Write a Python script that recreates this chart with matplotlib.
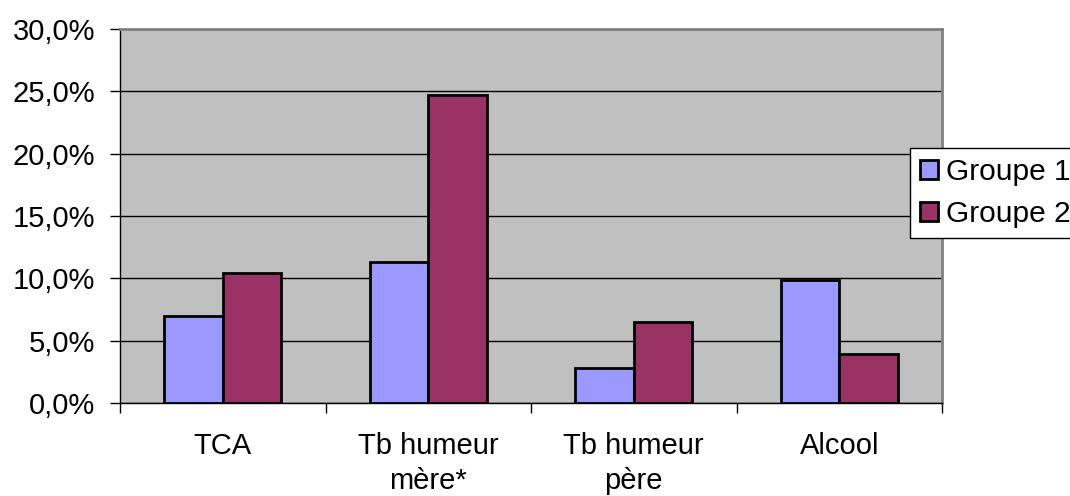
import numpy as np
import matplotlib.pyplot as plt
from matplotlib.ticker import FuncFormatter, FixedLocator

categories = ["TCA", "Tb humeur\nmère*", "Tb humeur\npère", "Alcool"]
groupe1 = [7.0, 11.3, 2.8, 9.9]
groupe2 = [10.4, 24.7, 6.5, 3.9]
series_names = ["Groupe 1", "Groupe 2"]
colors = ["#9999FF", "#993366"]

plt.rcParams["font.family"] = ["Liberation Sans", "DejaVu Sans"]

fig = plt.figure(figsize=(10.7, 4.96), dpi=100)
ax = fig.add_axes([120 / 1070, 1 - 403 / 496, 822 / 1070, 374 / 496])
ax.set_facecolor("#C0C0C0")

x = np.arange(len(categories))
w = 1 / 3.5
ax.bar(x - w / 2, groupe1, w, color=colors[0], edgecolor="black", linewidth=2,
       label=series_names[0], zorder=3)
ax.bar(x + w / 2, groupe2, w, color=colors[1], edgecolor="black", linewidth=2,
       label=series_names[1], zorder=3)

ax.set_xlim(-0.5, len(categories) - 0.5)
ax.set_ylim(0, 30)
ax.set_yticks(np.arange(0, 31, 5))
ax.yaxis.set_major_formatter(FuncFormatter(lambda v, p: f"{v:.1f}%".replace(".", ",")))
ax.yaxis.grid(True, color="black", linewidth=1, zorder=1)

ax.set_xticks(x)
ax.set_xticklabels(categories, linespacing=1.3)
ax.xaxis.set_minor_locator(FixedLocator(np.arange(-0.5, len(categories), 1)))
ax.tick_params(axis="x", which="major", length=0, pad=21, labelsize=21)
ax.tick_params(axis="x", which="minor", length=7, width=1, color="black")
ax.tick_params(axis="y", length=7, width=1, pad=11, labelsize=21)

for side in ["top", "right"]:
    ax.spines[side].set_color("#808080")
    ax.spines[side].set_linewidth(2)
for side in ["left", "bottom"]:
    ax.spines[side].set_color("black")
    ax.spines[side].set_linewidth(1)

leg = fig.legend(loc="upper left", bbox_to_anchor=(910 / 1070, 1 - 148 / 496),
                 fontsize=21.5, frameon=True, fancybox=False, framealpha=1,
                 edgecolor="black", handlelength=0.6, handleheight=0.6,
                 handletextpad=0.25, borderpad=0.35, labelspacing=0.45,
                 borderaxespad=0)
leg.get_frame().set_linewidth(1)

fig.savefig("out.png", dpi=100)
